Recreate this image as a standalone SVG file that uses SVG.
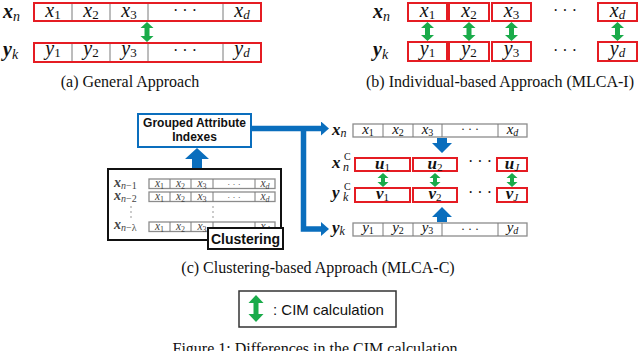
<svg xmlns="http://www.w3.org/2000/svg" width="640" height="351" viewBox="0 0 640 351">
<defs>
<style>
.bg{fill:#fff}
.r{fill:#fff;stroke:#e51c23;stroke-width:2}
.gr{fill:#fff;stroke:#8c8c8c;stroke-width:1.3}
.dv{stroke:#7a7a7a;stroke-width:1}
.m{font-family:"Liberation Serif","DejaVu Serif",serif;font-style:italic;fill:#111}
.mg{font-family:"Liberation Serif","DejaVu Serif",serif;font-style:italic;fill:#444}
.b{font-weight:bold}
.n{font-style:normal;font-weight:normal}
.i{font-weight:normal}
.cap{font-family:"Liberation Serif","Times New Roman",serif;font-size:16px;fill:#111}
.sb{font-family:"Liberation Sans",Arial,sans-serif;font-weight:bold;fill:#111}
.s{font-family:"Liberation Sans",Arial,sans-serif;fill:#111}
.gn{fill:#1aab4a}
.bl{fill:#0a6ebd}
.conn{fill:none;stroke:#0a6ebd;stroke-width:5.5}
.dot{fill:#888}
</style>
<marker id="ah" viewBox="0 0 8 14" refX="0" refY="7" markerWidth="8" markerHeight="14" markerUnits="userSpaceOnUse" orient="auto">
<path d="M0,0 L8,7 L0,14 Z" fill="#0a6ebd"/>
</marker>
</defs>
<rect class="bg" x="0" y="0" width="640" height="351"/>

<!-- (a) General Approach -->
<g id="a-xn">
<text class="m b" x="3" y="18" font-size="20">x<tspan class="i" dy="3" font-size="14">n</tspan></text>
<rect class="r" x="34" y="3" width="227" height="18"/>
<path class="dv" d="M72,4V20M110,4V20M148,4V20M223,4V20"/>
<g class="m" font-size="20" text-anchor="middle">
<text x="53" y="17">x<tspan class="n" dy="2" font-size="13">1</tspan></text>
<text x="91" y="17">x<tspan class="n" dy="2" font-size="13">2</tspan></text>
<text x="129" y="17">x<tspan class="n" dy="2" font-size="13">3</tspan></text>
<text x="185" y="16" font-style="normal" font-size="16">· · ·</text>
<text x="242" y="17">x<tspan dy="2" font-size="13">d</tspan></text>
</g>
</g>
<g id="a-yk">
<text class="m b" x="3" y="56" font-size="20">y<tspan class="i" dy="3" font-size="14">k</tspan></text>
<rect class="r" x="34" y="43" width="227" height="19"/>
<path class="dv" d="M72,44V61M110,44V61M148,44V61M223,44V61"/>
<g class="m" font-size="20" text-anchor="middle">
<text x="53" y="55">y<tspan class="n" dy="2" font-size="13">1</tspan></text>
<text x="91" y="55">y<tspan class="n" dy="2" font-size="13">2</tspan></text>
<text x="129" y="55">y<tspan class="n" dy="2" font-size="13">3</tspan></text>
<text x="185" y="56" font-style="normal" font-size="16">· · ·</text>
<text x="242" y="55">y<tspan dy="2" font-size="13">d</tspan></text>
</g>
</g>
<g id="a-cim">
<path class="gn" d="M147,22 l6.5,6 h-4 v8 h4 l-6.5,6 l-6.5,-6 h4 v-8 h-4 z"/>
</g>
<text id="cap-a" class="cap" x="130" y="87" text-anchor="middle">(a) General Approach</text>

<!-- (b) Individual-based Approach -->
<g id="b-xn">
<text class="m b" x="373" y="18" font-size="20">x<tspan class="i" dy="3" font-size="14">n</tspan></text>
<rect class="r" x="408" y="3" width="39" height="18"/>
<rect class="r" x="449" y="3" width="40" height="18"/>
<rect class="r" x="492" y="3" width="39" height="18"/>
<rect class="r" x="598" y="3" width="39" height="18"/>
<g class="m" font-size="20" text-anchor="middle">
<text x="427.5" y="17">x<tspan class="n" dy="2" font-size="13">1</tspan></text>
<text x="469" y="17">x<tspan class="n" dy="2" font-size="13">2</tspan></text>
<text x="511.5" y="17">x<tspan class="n" dy="2" font-size="13">3</tspan></text>
<text x="565" y="16" font-style="normal" font-size="16">· · ·</text>
<text x="617.5" y="17">x<tspan dy="2" font-size="13">d</tspan></text>
</g>
</g>
<g id="b-yk">
<text class="m b" x="373" y="56" font-size="20">y<tspan class="i" dy="3" font-size="14">k</tspan></text>
<rect class="r" x="408" y="42" width="39" height="19"/>
<rect class="r" x="449" y="42" width="40" height="19"/>
<rect class="r" x="492" y="42" width="39" height="19"/>
<rect class="r" x="598" y="42" width="39" height="19"/>
<g class="m" font-size="20" text-anchor="middle">
<text x="427.5" y="55">y<tspan class="n" dy="2" font-size="13">1</tspan></text>
<text x="469" y="55">y<tspan class="n" dy="2" font-size="13">2</tspan></text>
<text x="511.5" y="55">y<tspan class="n" dy="2" font-size="13">3</tspan></text>
<text x="565" y="56" font-style="normal" font-size="16">· · ·</text>
<text x="617.5" y="55">y<tspan dy="2" font-size="13">d</tspan></text>
</g>
</g>
<g id="b-cim">
<path class="gn" d="M427.5,22 l6.5,6 h-4 v7 h4 l-6.5,6 l-6.5,-6 h4 v-7 h-4 z"/>
<path class="gn" d="M469,22 l6.5,6 h-4 v7 h4 l-6.5,6 l-6.5,-6 h4 v-7 h-4 z"/>
<path class="gn" d="M511.5,22 l6.5,6 h-4 v7 h4 l-6.5,6 l-6.5,-6 h4 v-7 h-4 z"/>
<path class="gn" d="M617.5,22 l6.5,6 h-4 v7 h4 l-6.5,6 l-6.5,-6 h4 v-7 h-4 z"/>
</g>
<text id="cap-b" class="cap" x="500" y="87" text-anchor="middle">(b) Individual-based Approach (MLCA-I)</text>

<!-- (c) Clustering-based Approach -->
<g id="c-gai">
<rect x="138" y="114" width="113" height="33" fill="#fff" stroke="#0a6ebd" stroke-width="2"/>
<text class="sb" x="194.5" y="127" font-size="12" text-anchor="middle">Grouped Attribute</text>
<text class="sb" x="194.5" y="141" font-size="12" text-anchor="middle">Indexes</text>
</g>
<g id="c-up1">
<path class="bl" d="M197,148 L209,159 H202 V169 H192 V159 H185 Z"/>
</g>
<g id="c-hist">
<rect x="108" y="169" width="173" height="71" fill="#fff" stroke="#111" stroke-width="2"/>
<g class="mg">
<text class="b" x="114" y="187" font-size="14">x<tspan class="i" dy="2" font-size="10">n</tspan><tspan class="n" font-size="10">−1</tspan></text>
<text class="b" x="114" y="200" font-size="14">x<tspan class="i" dy="2" font-size="10">n</tspan><tspan class="n" font-size="10">−2</tspan></text>
<text class="b" x="114" y="229" font-size="14">x<tspan class="i" dy="2" font-size="10">n</tspan><tspan class="n" font-size="10">−λ</tspan></text>
</g>
<rect class="gr" x="149" y="179" width="126" height="9.5"/>
<rect class="gr" x="149" y="192" width="126" height="9.5"/>
<rect class="gr" x="149" y="222" width="126" height="9.5"/>
<path class="dv" d="M170,179V188.5M191,179V188.5M213,179V188.5M255,179V188.5M170,192V201.5M191,192V201.5M213,192V201.5M255,192V201.5M170,222V231.5M191,222V231.5M213,222V231.5M255,222V231.5"/>
<g class="mg" font-size="11.5" text-anchor="middle">
<text x="159.5" y="187">x<tspan class="n" dy="1.5" font-size="8">1</tspan></text>
<text x="180.5" y="187">x<tspan class="n" dy="1.5" font-size="8">2</tspan></text>
<text x="202" y="187">x<tspan class="n" dy="1.5" font-size="8">3</tspan></text>
<text x="234" y="186.5" font-style="normal" font-size="9">· · ·</text>
<text x="265" y="187">x<tspan dy="1.5" font-size="8">d</tspan></text>
<text x="159.5" y="200">x<tspan class="n" dy="1.5" font-size="8">1</tspan></text>
<text x="180.5" y="200">x<tspan class="n" dy="1.5" font-size="8">2</tspan></text>
<text x="202" y="200">x<tspan class="n" dy="1.5" font-size="8">3</tspan></text>
<text x="234" y="199.5" font-style="normal" font-size="9">· · ·</text>
<text x="265" y="200">x<tspan dy="1.5" font-size="8">d</tspan></text>
<text x="159.5" y="230">x<tspan class="n" dy="1.5" font-size="8">1</tspan></text>
<text x="180.5" y="230">x<tspan class="n" dy="1.5" font-size="8">2</tspan></text>
<text x="202" y="230">x<tspan class="n" dy="1.5" font-size="8">3</tspan></text>
<text x="265" y="230">x<tspan dy="1.5" font-size="8">d</tspan></text>
</g>
<circle class="dot" cx="131" cy="207" r="0.8"/>
<circle class="dot" cx="131" cy="212" r="0.8"/>
<circle class="dot" cx="131" cy="217" r="0.8"/>
<circle class="dot" cx="213" cy="207" r="0.8"/>
<circle class="dot" cx="213" cy="212" r="0.8"/>
<circle class="dot" cx="213" cy="217" r="0.8"/>
</g>
<g id="c-clustering">
<rect x="208" y="228" width="75" height="21" fill="#fff" stroke="#111" stroke-width="2"/>
<text class="sb" x="245.5" y="244" font-size="14" text-anchor="middle">Clustering</text>
</g>

<g id="connectors">
<path class="conn" d="M251,128.5 H321" marker-end="url(#ah)"/>
<path class="conn" d="M303.5,128.5 V229 H321" marker-end="url(#ah)"/>
</g>

<g id="c-xn">
<text class="m b" x="332" y="135" font-size="17">x<tspan class="i" dy="2" font-size="12">n</tspan></text>
<rect class="gr" x="353" y="124" width="174" height="13"/>
<path class="dv" d="M383,124V137M413,124V137M442,124V137M498,124V137"/>
<g class="m" font-size="15" text-anchor="middle" fill="#333">
<text x="368" y="134">x<tspan class="n" dy="2" font-size="10">1</tspan></text>
<text x="398" y="134">x<tspan class="n" dy="2" font-size="10">2</tspan></text>
<text x="427.5" y="134">x<tspan class="n" dy="2" font-size="10">3</tspan></text>
<text x="470" y="133" font-style="normal" font-size="12">· · ·</text>
<text x="512.5" y="134">x<tspan dy="2" font-size="10">d</tspan></text>
</g>
</g>
<g id="c-down">
<path class="bl" d="M437,138 H447 V143 H452 L442,153 L432,143 H437 Z"/>
</g>
<g id="c-xnC">
<text class="m b" x="332" y="168" font-size="17">x<tspan class="i" x="343" dy="3" font-size="12">n</tspan><tspan class="n" x="344" y="160" font-size="10">C</tspan></text>
<rect class="r" x="355" y="158" width="55" height="13"/>
<rect class="r" x="413" y="158" width="44" height="13"/>
<rect class="r" x="497" y="158" width="30" height="13"/>
<g class="m b" font-size="17" text-anchor="middle">
<text x="382.5" y="169">u<tspan class="n" dy="2" font-size="11">1</tspan></text>
<text x="435" y="169">u<tspan class="n" dy="2" font-size="11">2</tspan></text>
<text x="512" y="169">u<tspan class="i" dy="2" font-size="11">J</tspan></text>
</g>
<text x="480" y="167" class="cap" font-size="12" text-anchor="middle">· · ·</text>
</g>
<g id="c-cim">
<path class="gn" d="M383,173 l5.5,5 h-3.5 v4 h3.5 l-5.5,5 l-5.5,-5 h3.5 v-4 h-3.5 z"/>
<path class="gn" d="M435,173 l5.5,5 h-3.5 v4 h3.5 l-5.5,5 l-5.5,-5 h3.5 v-4 h-3.5 z"/>
<path class="gn" d="M512,173 l5.5,5 h-3.5 v4 h3.5 l-5.5,5 l-5.5,-5 h3.5 v-4 h-3.5 z"/>
</g>
<g id="c-ykC">
<text class="m b" x="332" y="198" font-size="17">y<tspan class="i" x="343" dy="3" font-size="12">k</tspan><tspan class="n" x="344" y="190" font-size="10">C</tspan></text>
<rect class="r" x="355" y="188" width="55" height="14"/>
<rect class="r" x="413" y="188" width="44" height="14"/>
<rect class="r" x="497" y="188" width="30" height="14"/>
<g class="m b" font-size="17" text-anchor="middle">
<text x="382.5" y="199">v<tspan class="n" dy="2" font-size="11">1</tspan></text>
<text x="435" y="199">v<tspan class="n" dy="2" font-size="11">2</tspan></text>
<text x="512" y="199">v<tspan class="i" dy="2" font-size="11">J</tspan></text>
</g>
<text x="480" y="198" class="cap" font-size="12" text-anchor="middle">· · ·</text>
</g>
<g id="c-up2">
<path class="bl" d="M442,207 L452,217 H447 V222 H437 V217 H432 Z"/>
</g>
<g id="c-yk">
<text class="m b" x="332" y="233" font-size="17">y<tspan class="i" dy="2" font-size="12">k</tspan></text>
<rect class="gr" x="353" y="223" width="174" height="13"/>
<path class="dv" d="M383,223V236M413,223V236M442,223V236M498,223V236"/>
<g class="m" font-size="15" text-anchor="middle" fill="#333">
<text x="368" y="232">y<tspan class="n" dy="2" font-size="10">1</tspan></text>
<text x="398" y="232">y<tspan class="n" dy="2" font-size="10">2</tspan></text>
<text x="427.5" y="232">y<tspan class="n" dy="2" font-size="10">3</tspan></text>
<text x="470" y="233" font-style="normal" font-size="12">· · ·</text>
<text x="512.5" y="232">y<tspan dy="2" font-size="10">d</tspan></text>
</g>
</g>
<text id="cap-c" class="cap" x="318" y="273" text-anchor="middle">(c) Clustering-based Approach (MLCA-C)</text>

<g id="legend">
<rect x="239" y="291" width="157" height="36" fill="#fff" stroke="#333" stroke-width="1.5"/>
<path class="gn" d="M256,295 l7.5,8 h-5 v11 h5 l-7.5,8 l-7.5,-8 h5 v-11 h-5 z"/>
<text class="s" x="273" y="315" font-size="15">: CIM calculation</text>
</g>
<text id="figcap" class="cap" x="315" y="354" text-anchor="middle">Figure 1: Differences in the CIM calculation</text>
</svg>
